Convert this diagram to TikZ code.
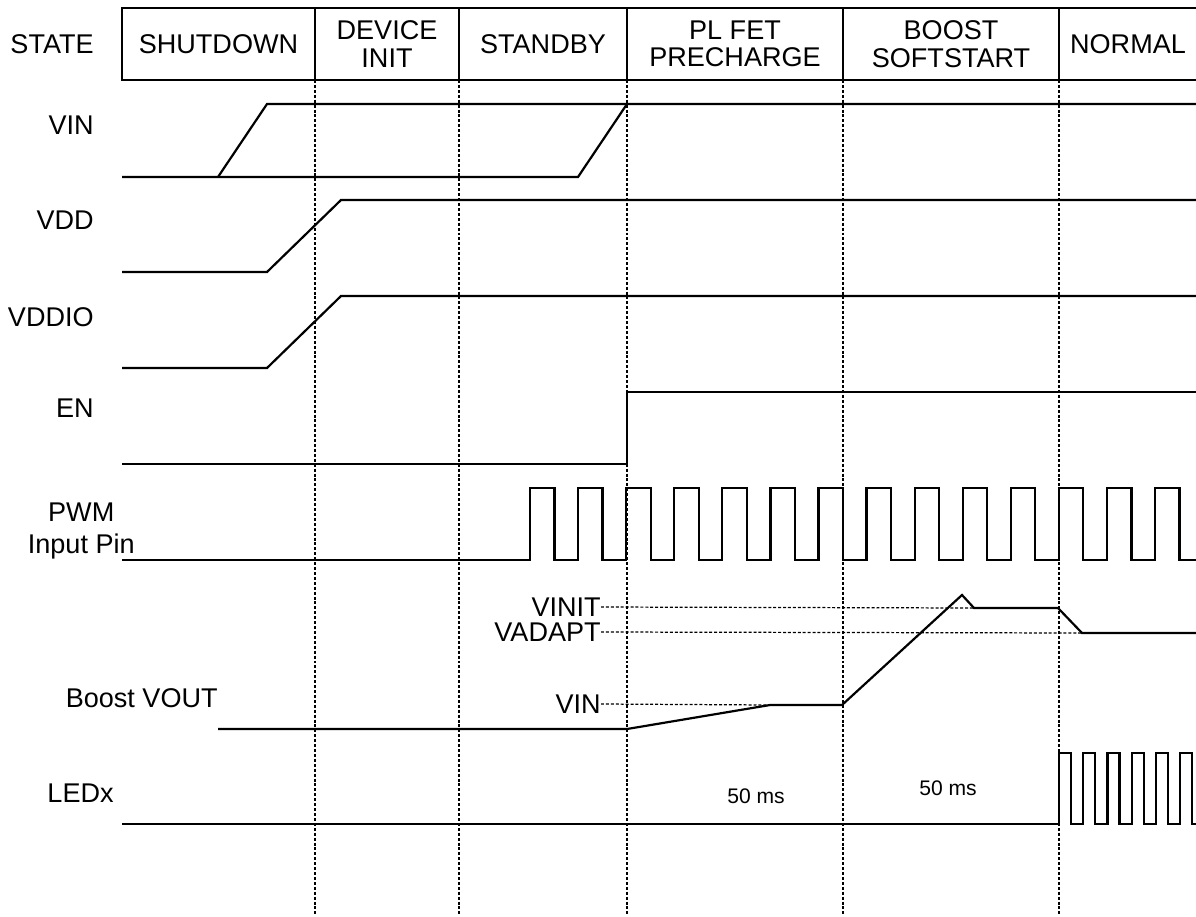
\documentclass[tikz,border=0pt]{standalone}
\usepackage{fontspec}
\setmainfont{Liberation Sans}
\usepackage{tikz}
\usetikzlibrary{positioning, calc}

\begin{document}
\begin{tikzpicture}[x=0.02cm, y=-0.02cm,
      sig/.style={line width=1.25pt, color=black},
      hdr/.style={line width=1.25pt, color=black},
      grid/.style={line width=0.7pt, dash pattern=on 1.7pt off 1.1pt},
      ref/.style={line width=0.7pt, dash pattern=on 1.7pt off 1.1pt},
      lbl/.style={anchor=east, inner sep=0pt, font=\fontsize{15.4pt}{18.5pt}\selectfont, align=center},
      cell/.style={inner sep=0pt, font=\fontsize{15.4pt}{15.6pt}\selectfont, align=center},
      tiny/.style={inner sep=0pt, font=\fontsize{12pt}{14pt}\selectfont}]
    \useasboundingbox (0,0) rectangle (1196,916);
    % state row
    \draw[hdr] (1196,8) -- (122,8) -- (122,80) -- (1196,80);
    \foreach \x in {315, 459, 627, 843, 1059} {
      \draw[hdr] (\x,8) -- (\x,80);
      \draw[grid] (\x,80) -- (\x,916);
    }
    \node[lbl] (state) at (94,44) {STATE};
    \node[cell] (sd) at (218.5,44) {SHUTDOWN};
    \node[cell] (di) at (387,44) {DEVICE\\INIT};
    \node[cell] (sb) at (543,44) {STANDBY};
    \node[cell] (pc) at (735,44) {PL FET\\PRECHARGE};
    \node[cell] (ss) at (951,44) {BOOST\\SOFTSTART};
    \node[cell] (nm) at (1128,44) {NORMAL};
    % signal names
    \node[lbl] (vin) at (94,125) {VIN};
    \node[lbl] (vdd) at (94,220) {VDD};
    \node[lbl] (vddio) at (94,317) {VDDIO};
    \node[lbl] (en) at (94,408) {EN};
    \node[lbl] (pwm) at (135,531) {PWM\\Input Pin};
    \node[lbl] (vout) at (218,698) {Boost VOUT};
    \node[lbl] (led) at (114,793) {LEDx};
    % waveforms
    \draw[sig] (122,177) -- (578,177) -- (627,104);
    \draw[sig] (218,177) -- (267,104) -- (1196,104);
    \draw[sig] (122,272) -- (267,272) -- (341,200) -- (1196,200);
    \draw[sig] (122,368) -- (267,368) -- (341,296) -- (1196,296);
    \draw[sig] (122,464) -- (627,464) -- (627,392) -- (1196,392);
    \draw[sig] (122,560) foreach \k in {0,...,13} {
      -- ({530+48.08*\k},560) -- ++(0,-72) -- ++(24.5,0) -- ++(0,72)} -- (1196,560);
    \coordinate (pv) at (770,705);
    \coordinate (pi) at (974,608);
    \coordinate (pa) at (1082,633);
    \draw[sig] (218,729) -- (627,729) -- (pv) -- (842,705) -- (962,595)
      -- (pi) -- (1058,608) -- (pa) -- (1196,633);
    \draw[sig] (122,824) foreach \k in {0,...,5} {
      -- ({1059+24.2*\k},824) -- ++(0,-71) -- ++(12,0) -- ++(0,71)} -- (1196,824);
    % levels
    \node[lbl] (vinit) at (601,607) {VINIT};
    \node[lbl] (vadapt) at (601,632) {VADAPT};
    \node[lbl] (vinl) at (601,704) {VIN};
    \draw[ref] (vinit.east) -- (pi);
    \draw[ref] (vadapt.east) -- (pa);
    \draw[ref] (vinl.east) -- (pv);
    \node[tiny] (t1) at (756,796) {50 ms};
    \node[tiny] (t2) at (948,788) {50 ms};
  \end{tikzpicture}
\end{document}
